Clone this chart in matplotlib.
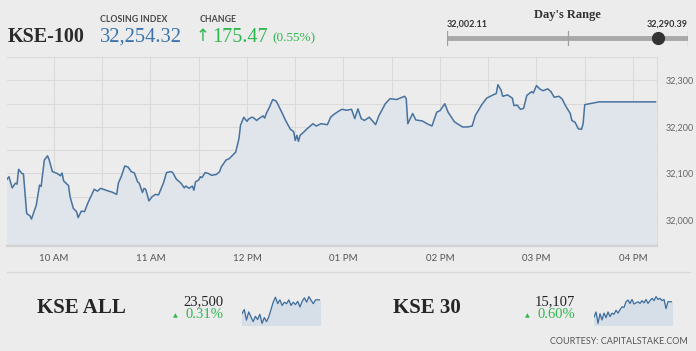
import numpy as np
import matplotlib.pyplot as plt
from matplotlib.ticker import MultipleLocator, FuncFormatter

W, H = 696, 351
BG = '#ececec'
LINE = '#48739f'
FILL = '#dfe5eb'
GREEN = '#2db84d'
GRID = '#dadada'

# KSE-100 intraday (time, index level)
times = ['09:30', '09:32', '09:34', '09:36', '09:37', '09:38', '09:40', '09:41', '09:43', '09:45',
         '09:46', '09:49', '09:51', '09:52', '09:54', '09:56', '09:57', '09:59', '10:02', '10:04',
         '10:05', '10:06', '10:09', '10:10', '10:12', '10:14', '10:15', '10:17', '10:19', '10:21',
         '10:25', '10:27', '10:29', '10:34', '10:36', '10:39', '10:40', '10:42', '10:44', '10:46',
         '10:48', '10:50', '10:52', '10:53', '10:55', '10:56', '10:57', '10:58', '10:59', '11:01',
         '11:03', '11:05', '11:07', '11:08', '11:10', '11:13', '11:14', '11:16', '11:19', '11:21',
         '11:22', '11:24', '11:26', '11:27', '11:28', '11:30', '11:31', '11:32', '11:34', '11:36',
         '11:38', '11:41', '11:43', '11:44', '11:47', '11:49', '11:51', '11:53', '11:55', '11:56',
         '11:58', '12:00', '12:01', '12:03', '12:04', '12:06', '12:07', '12:10', '12:11', '12:12',
         '12:14', '12:16', '12:18', '12:19', '12:22', '12:24', '12:27', '12:29', '12:30', '12:31',
         '12:32', '12:33', '12:35', '12:37', '12:41', '12:43', '12:46', '12:50', '12:52', '12:54',
         '12:57', '12:59', '13:02', '13:05', '13:07', '13:09', '13:11', '13:13', '13:16', '13:20',
         '13:22', '13:26', '13:29', '13:33', '13:38', '13:39', '13:40', '13:43', '13:45', '13:49',
         '13:52', '13:55', '13:58', '14:00', '14:03', '14:05', '14:09', '14:14', '14:17', '14:20',
         '14:22', '14:26', '14:29', '14:33', '14:35', '14:36', '14:38', '14:39', '14:42', '14:45',
         '14:46', '14:48', '14:50', '14:52', '14:54', '14:57', '14:58', '15:00', '15:02', '15:04',
         '15:07', '15:09', '15:11', '15:14', '15:16', '15:18', '15:21', '15:22', '15:24', '15:26',
         '15:28', '15:29', '15:30', '15:39', '16:14']
kse100 = [32084, 32093, 32069, 32079, 32077, 32109, 32100, 32099, 32014, 32009,
          32002, 32032, 32075, 32072, 32129, 32138, 32129, 32104, 32100, 32095,
          32101, 32084, 32074, 32050, 32025, 32018, 32005, 32019, 32018, 32036,
          32066, 32062, 32068, 32062, 32060, 32055, 32079, 32095, 32116, 32114,
          32104, 32101, 32082, 32079, 32059, 32068, 32066, 32054, 32041, 32050,
          32055, 32054, 32071, 32079, 32102, 32104, 32101, 32088, 32079, 32069,
          32073, 32068, 32073, 32064, 32082, 32086, 32093, 32091, 32102, 32100,
          32096, 32098, 32104, 32114, 32129, 32132, 32139, 32146, 32175, 32204,
          32221, 32212, 32217, 32221, 32220, 32214, 32217, 32224, 32219, 32229,
          32243, 32259, 32256, 32250, 32229, 32214, 32195, 32190, 32171, 32182,
          32169, 32182, 32188, 32195, 32207, 32202, 32207, 32205, 32221, 32227,
          32234, 32238, 32236, 32238, 32218, 32239, 32218, 32214, 32221, 32205,
          32224, 32250, 32261, 32259, 32266, 32261, 32207, 32229, 32215, 32213,
          32207, 32202, 32232, 32235, 32250, 32232, 32211, 32200, 32200, 32202,
          32225, 32248, 32262, 32269, 32272, 32291, 32279, 32266, 32269, 32262,
          32246, 32247, 32238, 32240, 32268, 32276, 32273, 32289, 32282, 32278,
          32282, 32276, 32264, 32266, 32260, 32246, 32229, 32214, 32210, 32196,
          32195, 32207, 32248, 32254, 32254]

close_val = 32254.32
change = 175.47
change_pct = 0.55
day_low, day_high = 32002.11, 32290.39

hour_ticks = [10, 11, 12, 13, 14, 15, 16]
hour_labels = ['10 AM', '11 AM', '12 PM', '01 PM', '02 PM', '03 PM', '04 PM']

# small sparklines
kse_all = [23453, 23467, 23431, 23459, 23442, 23426, 23444, 23433, 23451, 23420,
           23440, 23426, 23442, 23467, 23492, 23509, 23487, 23500, 23481, 23492,
           23487, 23500, 23481, 23492, 23484, 23495, 23476, 23495, 23507, 23492,
           23511, 23498, 23487, 23500, 23500, 23500]
kse30 = [15080, 15089, 15069, 15086, 15075, 15087, 15079, 15089, 15081, 15087,
         15085, 15092, 15087, 15093, 15098, 15097, 15107, 15110, 15104, 15111,
         15103, 15105, 15107, 15104, 15109, 15105, 15111, 15104, 15109, 15113,
         15109, 15116, 15111, 15113, 15109, 15111, 15095, 15107, 15107, 15107]
all_last, all_pct = '23,500', '0.31%'
k30_last, k30_pct = '15,107', '0.60%'


def px_axes(fig, x0, y0, x1, y1):
    # axes placed by pixel box (top-left origin)
    return fig.add_axes([x0 / W, 1 - y1 / H, (x1 - x0) / W, (y1 - y0) / H])


def ptext(fig, x, y, s, **kw):
    fig.text(x / W, 1 - y / H, s, **kw)


fig = plt.figure(figsize=(W / 100, H / 100), dpi=100, facecolor=BG)

# ---- main chart ----
t = np.array([int(s[:2]) + int(s[3:]) / 60 for s in times])
v = np.array(kse100)
ax = px_axes(fig, 7, 57, 657, 246)
ax.set_facecolor(BG)
ax.fill_between(t, v, 31900, color=FILL, zorder=1)
ax.plot(t, v, color=LINE, lw=1.1, zorder=3)
ax.set_xlim(9.513, 16.249)
ax.set_ylim(31944, 32350.5)
ax.yaxis.set_major_locator(MultipleLocator(100))
ax.yaxis.set_minor_locator(MultipleLocator(50))
ax.xaxis.set_minor_locator(MultipleLocator(0.5))
ax.set_xticks(hour_ticks, hour_labels)
ax.yaxis.set_major_formatter(FuncFormatter(lambda y, p: f'{y:,.0f}'))
ax.yaxis.tick_right()
ax.grid(True, which='both', color=GRID, lw=0.8, zorder=0)
ax.set_axisbelow(True)
ax.tick_params(axis='both', which='both', length=0)
ax.tick_params(axis='x', pad=6, labelsize=7, labelcolor='#555555')
ax.tick_params(axis='y', pad=6, labelsize=6.5, labelcolor='#666666')
for lab in ax.get_xticklabels() + ax.get_yticklabels():
    lab.set_fontfamily('Lato')
for side in ['top', 'left']:
    ax.spines[side].set_visible(False)
ax.spines['right'].set_color(GRID)
ax.spines['bottom'].set_color('#d2d2d2')
ax.spines['bottom'].set_linewidth(1.6)

# ---- header ----
serif = ['Liberation Serif', 'DejaVu Serif']
ptext(fig, 8, 37, 'KSE-100', family=serif, weight='bold', size=14.5, color='#2b2b2b', va='center')
ptext(fig, 100, 19, 'CLOSING INDEX', family='Lato', weight='bold', size=6.3, color='#4a4a4a', va='center')
ptext(fig, 100, 37, f'{close_val:,.2f}', family=serif, size=14.8, color='#3b73ad', va='center')
ptext(fig, 200, 19, 'CHANGE', family='Lato', weight='bold', size=6.3, color='#4a4a4a', va='center')
ptext(fig, 196, 36, '\u2191', family=['DejaVu Sans'], size=12, color=GREEN, va='center')
ptext(fig, 212, 37, f'{change:.2f}', family=serif, size=14.5, color=GREEN, va='center')
ptext(fig, 272, 38, f'({change_pct:.2f}%)', family=serif, size=9.5, color=GREEN, va='center')

# day's range slider
ptext(fig, 567, 15, "Day's Range", family=serif, weight='bold', size=9, color='#333333',
      ha='center', va='center')
ptext(fig, 447, 24, f'{day_low:,.2f}', family='Lato', weight='bold', size=6.5, color='#333333', va='center')
ptext(fig, 688, 24, f'{day_high:,.2f}', family='Lato', weight='bold', size=6.5, color='#333333',
      ha='right', va='center')
axr = px_axes(fig, 447, 30, 688, 46)
axr.set_xlim(day_low, day_high)
axr.set_ylim(-1, 1)
axr.axis('off')
axr.plot([day_low, day_high], [0, 0], color='#a9a9a9', lw=3.5, solid_capstyle='butt')
for xv in [day_low, (day_low + day_high) / 2, day_high]:
    axr.plot([xv, xv], [-0.9, 0.9], color='#a0a0a0', lw=0.9)
axr.plot([close_val], [0], 'o', color='#333333', ms=8.5, clip_on=False)

# ---- bottom strip ----
fig.add_artist(plt.Line2D([7 / W, 690 / W], [1 - 272 / H, 1 - 272 / H], color='#d8d8d8', lw=1))


def index_block(name, name_x, num_x, last, pct, spark, sx0, sx1):
    ptext(fig, name_x, 308, name, family=serif, weight='bold', size=15, color='#252525', va='center')
    ptext(fig, num_x, 302, last, family=serif, size=10.5, color='#252525', ha='right', va='center')
    ptext(fig, num_x, 315, pct, family=serif, size=10.5, color=GREEN, ha='right', va='center')
    ptext(fig, num_x - 50, 316, '\u25b2', family=['DejaVu Sans'], size=4.5, color=GREEN, va='center')
    axs = px_axes(fig, sx0, 295, sx1, 325)
    s = np.array(spark)
    rng = s.max() - s.min()
    axs.set_xlim(0, len(s) - 1)
    axs.set_ylim(s.min() - 0.06 * rng, s.max() + 0.06 * rng)
    axs.fill_between(np.arange(len(s)), s, s.min() - rng, color='#d6dee8')
    axs.plot(np.arange(len(s)), s, color='#3f6e9c', lw=0.9)
    axs.axis('off')


index_block('KSE ALL', 37, 223, all_last, all_pct, kse_all, 242, 320)
index_block('KSE 30', 393, 575, k30_last, k30_pct, kse30, 594, 672)

ptext(fig, 688, 342, 'COURTESY: CAPITALSTAKE.COM', family='Lato', size=6.5, color='#555555',
      ha='right', va='center')

fig.savefig('out.png', dpi=100, facecolor=BG)
